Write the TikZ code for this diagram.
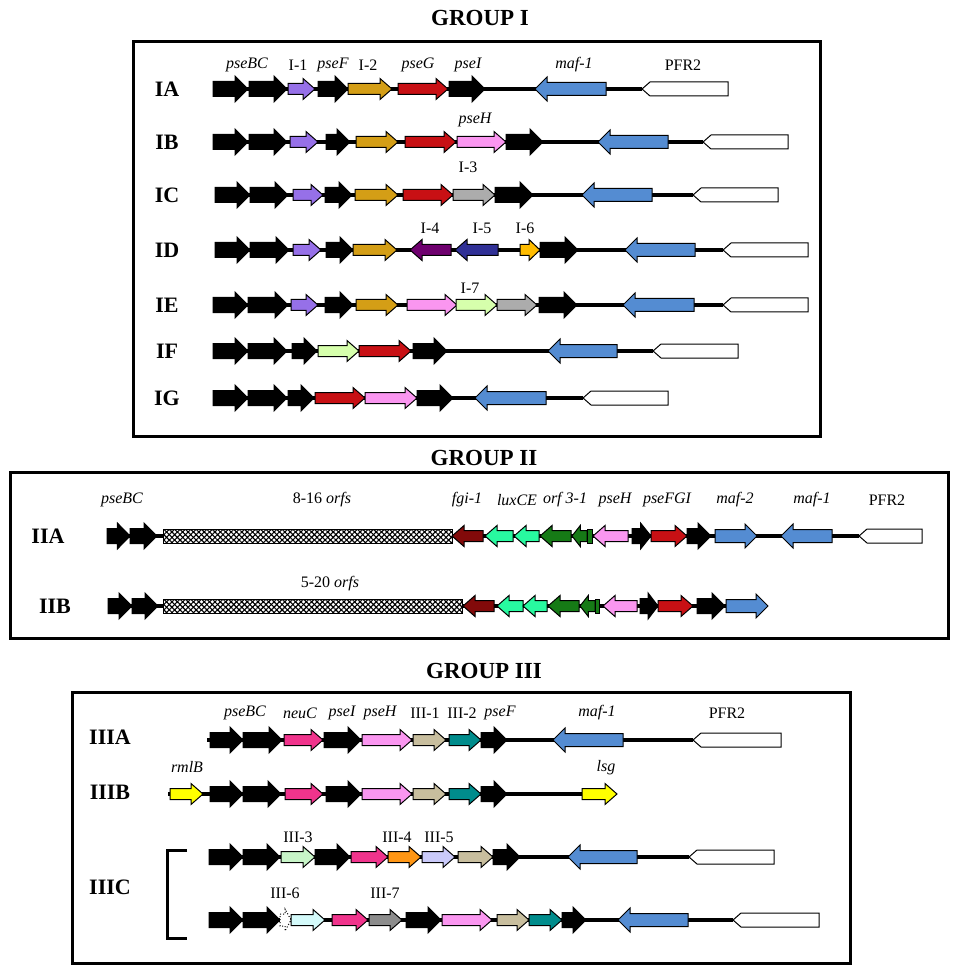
\documentclass[tikz,border=0pt]{standalone}
\usepackage{fontspec}
\setmainfont{Liberation Serif}
\usetikzlibrary{patterns.meta}

\definecolor{cPurp}{RGB}{150,112,232}
\definecolor{cGold}{RGB}{212,158,22}
\definecolor{cRed}{RGB}{200,16,20}
\definecolor{cPink}{RGB}{250,150,240}
\definecolor{cBlue}{RGB}{84,140,210}
\definecolor{cGrey}{RGB}{172,172,172}
\definecolor{cDPurp}{RGB}{110,0,110}
\definecolor{cDBlue}{RGB}{48,48,150}
\definecolor{cOrng}{RGB}{255,188,0}
\definecolor{cLGreen}{RGB}{214,255,172}
\definecolor{cDRed}{RGB}{130,10,10}
\definecolor{cAqua}{RGB}{40,250,160}
\definecolor{cGreen}{RGB}{22,122,22}
\definecolor{cNeuC}{RGB}{240,52,140}
\definecolor{cKhaki}{RGB}{200,190,158}
\definecolor{cTeal}{RGB}{0,140,140}
\definecolor{cYell}{RGB}{255,255,0}
\definecolor{cMint}{RGB}{200,245,200}
\definecolor{cOrng2}{RGB}{255,150,20}
\definecolor{cLav}{RGB}{202,202,250}
\definecolor{cCyan}{RGB}{212,250,250}
\definecolor{cGrey2}{RGB}{140,140,140}

% arrow genes: fill, x1, x2, y, half body, half head, head length
\newcommand{\arrowR}[7]{\pgfmathsetmacro\genehd{min(#7,0.55*(#3-#2))}
  \filldraw[fill=#1, line width=0.5pt] ({#2},{#4-#5}) -- ({#3-\genehd},{#4-#5}) -- ({#3-\genehd},{#4-#6}) -- ({#3},{#4}) -- ({#3-\genehd},{#4+#6}) -- ({#3-\genehd},{#4+#5}) -- ({#2},{#4+#5}) -- cycle;}
\newcommand{\arrowL}[7]{\pgfmathsetmacro\genehd{min(#7,0.55*(#3-#2))}
  \filldraw[fill=#1, line width=0.5pt] ({#3},{#4-#5}) -- ({#2+\genehd},{#4-#5}) -- ({#2+\genehd},{#4-#6}) -- ({#2},{#4}) -- ({#2+\genehd},{#4+#6}) -- ({#2+\genehd},{#4+#5}) -- ({#3},{#4+#5}) -- cycle;}
\newcommand{\geneR}[4]{\arrowR{#1}{#2}{#3}{#4}{5.5}{10.5}{12}}
\newcommand{\geneL}[4]{\arrowL{#1}{#2}{#3}{#4}{5.5}{10.5}{12}}
\newcommand{\blk}[3]{\arrowR{black}{#1}{#2}{#3}{7.5}{13}{13}}
\newcommand{\mafL}[3]{\arrowL{cBlue}{#1}{#2}{#3}{6.5}{12}{12}}
\newcommand{\mafR}[3]{\arrowR{cBlue}{#1}{#2}{#3}{6.5}{12}{12}}
\newcommand{\pfr}[3]{\filldraw[fill=white, line width=0.5pt] ({#1},{#3}) -- ({#1+8},{#3-7}) -- ({#2},{#3-7}) -- ({#2},{#3+7}) -- ({#1+8},{#3+7}) -- cycle;}
\newcommand{\spine}[3]{\draw[line width=1.6pt] ({#1},{#3}) -- ({#2},{#3});}
\newcommand{\orfs}[3]{\draw[line width=0.5pt, fill=white,
  postaction={pattern={Lines[angle=45,distance=1.9pt,line width=0.55pt]}},
  postaction={pattern={Lines[angle=-45,distance=1.9pt,line width=0.55pt]}}] ({#1},{#3-7}) rectangle ({#2},{#3+7});}

\tikzset{
  grptitle/.style={font=\fontsize{11.5}{13}\selectfont\bfseries, inner sep=0pt},
  grpbox/.style={line width=1.5pt},
  rowlab/.style={font=\fontsize{11}{12}\selectfont\bfseries, inner sep=0pt},
  glab/.style={font=\fontsize{8}{10}\selectfont\itshape, inner sep=0pt},
  nlab/.style={font=\fontsize{8}{10}\selectfont, inner sep=0pt}
}

\begin{document}
\begin{tikzpicture}[x=0.5pt, y=-0.5pt]
			\useasboundingbox (0,0) rectangle (957,978);
			
			%%%%% GROUP I %%%%%
			\node[grptitle] (t1) at (480,18) {GROUP I};
			\draw[grpbox] (133,42) rectangle (820,436);
			
			\node[rowlab] (IA) at (167,89) {IA};
			\spine{213}{642}{89}
			\blk{213}{248}{89} \blk{249}{287}{89}
			\geneR{cPurp}{288}{315}{89}
			\blk{318}{348}{89}
			\geneR{cGold}{348}{392}{89}
			\geneR{cRed}{398}{448}{89}
			\blk{449}{485}{89}
			\mafL{535}{606}{89}
			\pfr{642}{728}{89}
			\node[glab] (a1) at (247,65) {pseBC};
			\node[nlab] (a2) at (298,65) {I-1};
			\node[glab] (a3) at (333,65) {pseF};
			\node[nlab] (a4) at (368,65) {I-2};
			\node[glab] (a5) at (418,65) {pseG};
			\node[glab] (a6) at (468,65) {pseI};
			\node[glab] (a7) at (574,65) {maf-1};
			\node[nlab] (a8) at (683,65) {PFR2};
			
			\node[rowlab] (IB) at (167,142) {IB};
			\spine{213}{703}{142}
			\blk{213}{248}{142} \blk{249}{287}{142}
			\geneR{cPurp}{290}{318}{142}
			\blk{326}{350}{142}
			\geneR{cGold}{356}{398}{142}
			\geneR{cRed}{405}{456}{142}
			\geneR{cPink}{457}{506}{142}
			\blk{506}{543}{142}
			\mafL{598}{668}{142}
			\pfr{703}{788}{142}
			\node[glab] (b1) at (475,120) {pseH};
			
			\node[rowlab] (IC) at (167,195) {IC};
			\spine{215}{693}{195}
			\blk{215}{250}{195} \blk{250}{288}{195}
			\geneR{cPurp}{293}{323}{195}
			\blk{325}{352}{195}
			\geneR{cGold}{355}{398}{195}
			\geneR{cRed}{403}{453}{195}
			\geneR{cGrey}{453}{495}{195}
			\blk{495}{533}{195}
			\mafL{582}{652}{195}
			\pfr{693}{778}{195}
			\node[nlab] (c1) at (468,167) {I-3};
			
			\node[rowlab] (ID) at (167,250) {ID};
			\spine{215}{723}{250}
			\blk{215}{250}{250} \blk{250}{289}{250}
			\geneR{cPurp}{293}{321}{250}
			\blk{326}{353}{250}
			\geneR{cGold}{353}{397}{250}
			\geneL{cDPurp}{410}{451}{250}
			\geneL{cDBlue}{455}{498}{250}
			\geneR{cOrng}{520}{540}{250}
			\blk{540}{578}{250}
			\mafL{625}{695}{250}
			\pfr{723}{808}{250}
			\node[nlab] (d1) at (430,228) {I-4};
			\node[nlab] (d2) at (482,228) {I-5};
			\node[nlab] (d3) at (525,228) {I-6};
			
			\node[rowlab] (IE) at (167,305) {IE};
			\spine{213}{723}{305}
			\blk{213}{248}{305} \blk{248}{288}{305}
			\geneR{cPurp}{291}{318}{305}
			\blk{325}{353}{305}
			\geneR{cGold}{356}{398}{305}
			\geneR{cPink}{407}{457}{305}
			\geneR{cLGreen}{456}{497}{305}
			\geneR{cGrey}{497}{537}{305}
			\blk{539}{577}{305}
			\mafL{623}{694}{305}
			\pfr{723}{808}{305}
			\node[nlab] (e1) at (470,288) {I-7};
			
			\node[rowlab] (IF) at (167,351) {IF};
			\spine{213}{653}{351}
			\blk{213}{248}{351} \blk{248}{287}{351} \blk{292}{317}{351}
			\geneR{cLGreen}{318}{359}{351}
			\geneR{cRed}{359}{411}{351}
			\blk{413}{447}{351}
			\mafL{548}{617}{351}
			\pfr{653}{738}{351}
			
			\node[rowlab] (IG) at (167,398) {IG};
			\spine{213}{583}{398}
			\blk{213}{248}{398} \blk{248}{287}{398} \blk{288}{314}{398}
			\geneR{cRed}{315}{365}{398}
			\geneR{cPink}{365}{417}{398}
			\blk{417}{453}{398}
			\mafL{475}{546}{398}
			\pfr{583}{668}{398}
			
			%%%%% GROUP II %%%%%
			\node[grptitle] (t2) at (484,458) {GROUP II};
			\draw[grpbox] (10,472) rectangle (948,638);
			
			\node[rowlab] (IIA) at (48,536) {IIA};
			\spine{107}{859}{536}
			\blk{107}{130}{536} \blk{130}{157}{536}
			\orfs{163}{452}{536}
			\geneL{cDRed}{452}{483}{536}
			\geneL{cAqua}{485}{513}{536}
			\geneL{cAqua}{514}{539}{536}
			\geneL{cGreen}{540}{571}{536}
			\geneL{cGreen}{572}{587}{536}
			\filldraw[fill=cGreen, line width=0.5pt] (587,529) rectangle (592,543);
			\geneL{cPink}{593}{628}{536}
			\blk{632}{651}{536}
			\geneR{cRed}{651}{687}{536}
			\blk{687}{711}{536}
			\mafR{715}{757}{536}
			\mafL{781}{832}{536}
			\pfr{859}{922}{536}
			\node[glab] (f1) at (122,500) {pseBC};
			\node[nlab] (f2) at (322,500) {8-16 \textit{orfs}};
			\node[glab] (f3) at (467,500) {fgi-1};
			\node[glab] (f4) at (517,500) {luxCE};
			\node[glab] (f5) at (565,500) {orf 3-1};
			\node[glab] (f6) at (615,500) {pseH};
			\node[glab] (f7) at (667,500) {pseFGI};
			\node[glab] (f8) at (735,500) {maf-2};
			\node[glab] (f9) at (812,500) {maf-1};
			\node[nlab] (f10) at (887,500) {PFR2};
			
			\node[rowlab] (IIB) at (55,606) {IIB};
			\spine{108}{726}{606}
			\blk{108}{132}{606} \blk{132}{158}{606}
			\orfs{163}{462}{606}
			\geneL{cDRed}{463}{494}{606}
			\geneL{cAqua}{497}{523}{606}
			\geneL{cAqua}{523}{547}{606}
			\geneL{cGreen}{548}{579}{606}
			\geneL{cGreen}{580}{595}{606}
			\filldraw[fill=cGreen, line width=0.5pt] (595,599) rectangle (599,613);
			\geneL{cPink}{603}{637}{606}
			\blk{640}{658}{606}
			\geneR{cRed}{658}{693}{606}
			\blk{697}{725}{606}
			\mafR{726}{768}{606}
			\node[nlab] (g1) at (330,584) {5-20 \textit{orfs}};
			
			%%%%% GROUP III %%%%%
			\node[grptitle] (t3) at (484,671) {GROUP III};
			\draw[grpbox] (72,692) rectangle (850,963);
			
			\node[rowlab] (IIIA) at (110,737) {IIIA};
			\spine{207}{693}{740}
			\blk{210}{243}{740} \blk{243}{282}{740}
			\geneR{cNeuC}{284}{323}{740}
			\blk{324}{361}{740}
			\geneR{cPink}{362}{412}{740}
			\geneR{cKhaki}{413}{446}{740}
			\geneR{cTeal}{449}{481}{740}
			\blk{481}{507}{740}
			\mafL{553}{623}{740}
			\pfr{693}{781}{740}
			\node[glab] (h1) at (245,713) {pseBC};
			\node[glab] (h2) at (300,713) {neuC};
			\node[glab] (h3) at (342,713) {pseI};
			\node[glab] (h4) at (380,713) {pseH};
			\node[nlab] (h5) at (425,713) {III-1};
			\node[nlab] (h6) at (462,713) {III-2};
			\node[glab] (h7) at (500,713) {pseF};
			\node[glab] (h8) at (597,713) {maf-1};
			\node[nlab] (h9) at (727,713) {PFR2};
			
			\node[rowlab] (IIIB) at (110,792) {IIIB};
			\spine{168}{582}{794}
			\geneR{cYell}{170}{203}{794}
			\blk{210}{243}{794} \blk{243}{281}{794}
			\geneR{cNeuC}{285}{323}{794}
			\blk{326}{361}{794}
			\geneR{cPink}{362}{412}{794}
			\geneR{cKhaki}{413}{446}{794}
			\geneR{cTeal}{449}{481}{794}
			\blk{481}{507}{794}
			\geneR{cYell}{582}{617}{794}
			\node[glab] (k1) at (187,767) {rmlB};
			\node[glab] (k2) at (606,768) {lsg};
			
			\node[rowlab] (IIIC) at (110,887) {IIIC};
			\draw[line width=1.5pt] (187,850) -- (167,850) -- (167,938) -- (187,938);
			
			\spine{209}{689}{857}
			\blk{209}{243}{857} \blk{243}{280}{857}
			\geneR{cMint}{281}{315}{857}
			\blk{315}{350}{857}
			\geneR{cNeuC}{351}{388}{857}
			\geneR{cOrng2}{388}{421}{857}
			\geneR{cLav}{422}{455}{857}
			\geneR{cKhaki}{458}{493}{857}
			\blk{493}{520}{857}
			\mafL{568}{637}{857}
			\pfr{689}{774}{857}
			\node[nlab] (m1) at (298,837) {III-3};
			\node[nlab] (m2) at (397,837) {III-4};
			\node[nlab] (m3) at (439,837) {III-5};
			
			\spine{209}{733}{920}
			\blk{209}{243}{920} \blk{243}{280}{920}
			\filldraw[fill=white, densely dotted, line width=0.5pt] (280,914) -- (285,914) -- (285,909) -- (291,920) -- (285,931) -- (285,926) -- (280,926) -- cycle;
			\geneR{cCyan}{291}{325}{920}
			\geneR{cNeuC}{332}{368}{920}
			\geneR{cGrey2}{369}{402}{920}
			\blk{406}{441}{920}
			\geneR{cPink}{442}{492}{920}
			\geneR{cKhaki}{497}{529}{920}
			\geneR{cTeal}{529}{562}{920}
			\blk{562}{586}{920}
			\mafL{618}{688}{920}
			\pfr{733}{819}{920}
			\node[nlab] (n1) at (285,893) {III-6};
			\node[nlab] (n2) at (385,893) {III-7};
			
\end{tikzpicture}
\end{document}
